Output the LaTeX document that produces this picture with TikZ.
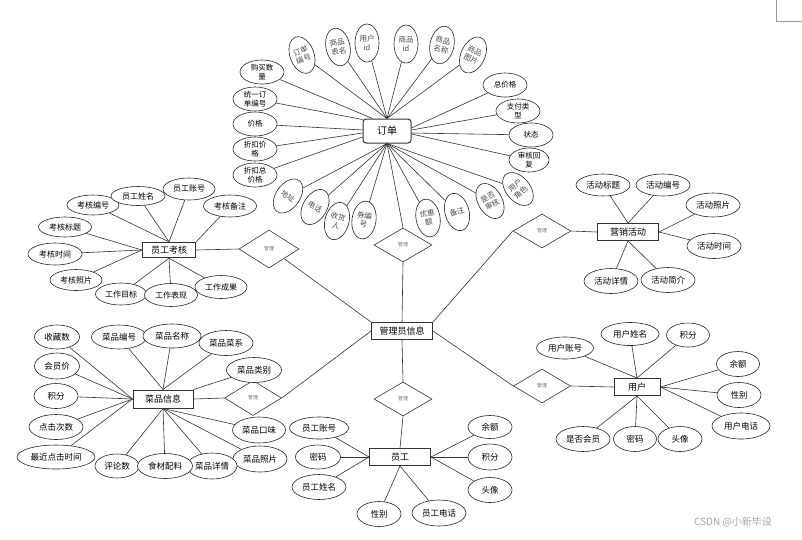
\documentclass[tikz,border=0pt]{standalone}
\usepackage{fontspec}
\setmainfont{Noto Sans CJK SC}
\usetikzlibrary{shapes.geometric,backgrounds}
\begin{document}
\begin{tikzpicture}[x=1pt,y=-1pt,
  ln/.style={draw=black!80, line width=0.6pt},
  ent/.style={draw=black!80, line width=1pt, fill=white, inner sep=0pt, minimum width=61pt, minimum height=17pt, font=\fontsize{9}{10}\selectfont},
  attrib/.style={draw=black!85, line width=0.6pt, ellipse, fill=white, inner sep=0pt, minimum width=54pt, minimum height=24pt, font=\fontsize{8.5}{9}\selectfont, align=center},
  sat/.style={attrib, minimum width=44pt, font=\fontsize{7.5}{8.5}\selectfont},
  rat/.style={attrib, minimum width=24pt, minimum height=38pt, font=\fontsize{7.5}{9}\selectfont, text=black!70},
  rel/.style={draw=black!80, line width=0.6pt, diamond, fill=white, inner sep=0pt, minimum width=58pt, minimum height=34pt, font=\fontsize{5}{5}\selectfont, text=black!55},
]
\useasboundingbox (0,0) rectangle (802,539);

% central part
\node[ent] (adm) at (402,331) {管理员信息};
\node[rel] (r0) at (403,245) {管理};
\node[rel] (r1) at (403,399) {管理};
\node[ent] (emp) at (400,457) {员工};

% order
\node[ent, rounded corners=3pt, minimum width=48pt, minimum height=24pt, font=\fontsize{10}{10}\selectfont] (ord) at (387,131) {订单};
\node[rat, rotate=20] (o1) at (302,55) {订单\\编号};
\node[rat, rotate=12] (o2) at (338,47) {商品\\表名};
\node[rat] (o3) at (367,43) {用户\\id};
\node[rat] (o4) at (406,44) {商品\\id};
\node[rat, rotate=-12] (o5) at (442,45) {商品\\名称};
\node[rat, rotate=-25] (o6) at (473,55) {商品\\图片};
\node[sat] (o7) at (262,72) {购买数\\量};
\node[sat] (o8) at (255,99) {统一订\\单编号};
\node[sat] (o9) at (255,124) {价格};
\node[sat] (o10) at (255,149) {折扣价\\格};
\node[sat] (o11) at (255,175) {折扣总\\价格};
\node[sat] (o12) at (505,85) {总价格};
\node[sat] (o13) at (518,111) {支付类\\型};
\node[sat] (o14) at (531,135) {状态};
\node[sat, minimum width=40pt] (o15) at (529,160) {审核回\\复};
\node[rat, rotate=-35] (o16) at (288,196) {地址};
\node[rat, rotate=-30] (o17) at (315,207) {电话};
\node[rat, rotate=-15] (o18) at (337,221) {收货\\人};
\node[rat, rotate=-8] (o19) at (364,220) {券编\\号};
\node[rat, rotate=10] (o20) at (428,218) {优惠\\额};
\node[rat, rotate=15] (o21) at (457,212) {备注};
\node[rat, rotate=30] (o22) at (490,201) {是否\\审核};
\node[rat, rotate=40] (o23) at (518,189) {用户\\角色};

% staff assessment
\node[ent, line width=1.3pt, minimum width=53pt, minimum height=15pt] (kh) at (169,250) {员工考核};
\node[rel, minimum width=60pt, minimum height=38pt] (rk) at (269,249) {管理};
\node[attrib, minimum width=52pt, minimum height=20pt, font=\fontsize{8}{9}\selectfont] (k1) at (93,205) {考核编号};
\node[attrib, minimum width=54pt, minimum height=19pt, font=\fontsize{8}{9}\selectfont] (k2) at (138,196) {员工姓名};
\node[attrib, minimum width=52pt, minimum height=22pt, font=\fontsize{8}{9}\selectfont] (k3) at (189,189) {员工账号};
\node[attrib, minimum width=53pt, minimum height=22pt, font=\fontsize{8}{9}\selectfont] (k4) at (230,206) {考核备注};
\node[attrib, minimum width=53pt, minimum height=20pt, font=\fontsize{8}{9}\selectfont] (k5) at (65,227) {考核标题};
\node[attrib, minimum width=54pt, minimum height=22pt, font=\fontsize{8}{9}\selectfont] (k6) at (55,254) {考核时间};
\node[attrib, minimum width=52pt, minimum height=21pt, font=\fontsize{8}{9}\selectfont] (k7) at (76,280) {考核照片};
\node[attrib, minimum width=51pt, minimum height=22pt, font=\fontsize{8}{9}\selectfont] (k8) at (121,294) {工作目标};
\node[attrib, minimum width=53pt, minimum height=23pt, font=\fontsize{8}{9}\selectfont] (k9) at (171,295) {工作表现};
\node[attrib, minimum width=52pt, minimum height=23pt, font=\fontsize{8}{9}\selectfont] (k10) at (221,287) {工作成果};

% marketing
\node[ent] (yx) at (628,232) {营销活动};
\node[rel] (ry) at (542,231) {管理};
\node[attrib, minimum height=22pt] (y1) at (603,185) {活动标题};
\node[attrib, minimum height=22pt] (y2) at (663,185) {活动编号};
\node[attrib] (y3) at (713,205) {活动照片};
\node[attrib, minimum height=25pt] (y4) at (714,246) {活动时间};
\node[attrib, minimum height=25pt] (y5) at (611,281) {活动详情};
\node[attrib, minimum height=25pt] (y6) at (668,280) {活动简介};

% dishes
\node[ent, minimum width=60pt, minimum height=18pt] (cp) at (163,399) {菜品信息};
\node[rel, minimum width=57pt, minimum height=35pt] (rc) at (253,398) {管理};
\node[attrib, minimum width=45pt] (c1) at (57,337) {收藏数};
\node[attrib, minimum width=45pt, minimum height=26pt] (c2) at (57,366) {会员价};
\node[attrib, minimum width=44pt, minimum height=25pt] (c3) at (56,396) {积分};
\node[attrib, minimum height=25pt] (c4) at (56,427) {点击次数};
\node[attrib, minimum width=78pt] (c5) at (56,457) {最近点击时间};
\node[attrib, minimum width=55pt] (c6) at (119,337) {菜品编号};
\node[attrib, minimum width=58pt] (c7) at (172,336) {菜品名称};
\node[attrib, minimum height=25pt] (c8) at (226,343) {菜品菜系};
\node[attrib, minimum width=55pt, minimum height=25pt] (c9) at (254,370) {菜品类别};
\node[attrib, minimum width=53pt, minimum height=26pt] (c10) at (259,430) {菜品口味};
\node[attrib, minimum height=26pt] (c11) at (260,459) {菜品照片};
\node[attrib, minimum width=44pt] (c12) at (117,466) {评论数};
\node[attrib, minimum width=50pt, minimum height=26pt] (c14) at (212,466) {菜品详情};
\node[attrib, minimum width=55pt, minimum height=25pt] (c13) at (165,466) {食材配料};

% user
\node[ent, minimum width=46pt] (yh) at (637,387) {用户};
\node[rel, minimum width=57pt] (ru) at (542,386) {管理};
\node[attrib, minimum width=57pt, minimum height=22pt] (u1) at (565,348) {用户账号};
\node[attrib, minimum width=58pt, minimum height=23pt] (u2) at (630,334) {用户姓名};
\node[attrib, minimum width=43pt] (u3) at (688,335) {积分};
\node[attrib, minimum width=43pt, minimum height=25pt] (u4) at (738,364) {余额};
\node[attrib, minimum width=44pt, minimum height=25pt] (u5) at (739,395) {性别};
\node[attrib, minimum width=58pt, minimum height=26pt] (u6) at (741,426) {用户电话};
\node[attrib, minimum height=25pt] (u7) at (583,439) {是否会员};
\node[attrib, minimum width=43pt, minimum height=25pt] (u8) at (635,439) {密码};
\node[attrib, minimum width=44pt, minimum height=25pt] (u9) at (680,439) {头像};

% staff
\node[attrib, minimum width=59pt, minimum height=22pt] (e1) at (319,428) {员工账号};
\node[attrib, minimum width=45pt] (e2) at (318,457) {密码};
\node[attrib, minimum height=25pt] (e3) at (319,487) {员工姓名};
\node[attrib, minimum width=44pt, minimum height=25pt] (e4) at (379,514) {性别};
\node[attrib, minimum height=26pt] (e5) at (439,513) {员工电话};
\node[attrib, minimum width=44pt, minimum height=23pt] (e6) at (490,427) {余额};
\node[attrib, minimum width=44pt, minimum height=26pt] (e7) at (490,457) {积分};
\node[attrib, minimum width=44pt, minimum height=25pt] (e8) at (490,490) {头像};

% watermark
\node[text=black!35, font=\fontsize{10}{10}\selectfont, inner sep=0pt] (wm) at (733,522) {CSDN @小新毕设};
\draw[black!40, line width=0.5pt] (776,0) -- (776,21) -- (802,21);

\begin{scope}[on background layer]
% central
\draw[ln] (ord.south) -- (r0.north);
\draw[ln] (r0.south) -- (adm.north);
\draw[ln] (adm.south) -- (r1.north);
\draw[ln] (r1.south) -- (emp.north);
\draw[ln] (adm.north west) -- (rk.south east);
\draw[ln] (adm.north east) -- (ry.west);
\draw[ln] (adm.west) -- (rc.east);
\draw[ln] (adm.east) -- (ru.west);
% order
\foreach \n in {o1,o2,o3,o4,o5,o6} \draw[ln] (ord.north) -- (\n);
\foreach \n in {o16,o17,o18,o19,o20,o21,o22,o23} \draw[ln] (ord.south) -- (\n);
\draw[ln] ([xshift=10pt]ord.north west) -- (o7);
\draw[ln] ([yshift=-1pt]ord.north west) -- (o8);
\draw[ln] ([yshift=1pt]ord.west) -- (o9);
\draw[ln] ([yshift=-2pt]ord.west) -- (o10);
\draw[ln] ([yshift=-6pt]ord.west) -- (o11);
\draw[ln] ([yshift=3pt]ord.east) -- (o12);
\draw[ln] ([yshift=1pt]ord.east) -- (o13);
\draw[ln] ([yshift=-2pt]ord.east) -- (o14);
\draw[ln] ([yshift=-3pt]ord.east) -- (o15);
% assessment
\foreach \n in {k1,k2,k3} \draw[ln] (kh.north) -- (\n);
\draw[ln] (kh.north east) -- (k4);
\foreach \n in {k5,k6,k7} \draw[ln] (kh.west) -- (\n);
\foreach \n in {k8,k9,k10} \draw[ln] (kh.south) -- (\n);
\draw[ln] (kh.east) -- (rk.west);
% marketing
\foreach \n in {y1,y2} \draw[ln] (yx.north) -- (\n);
\foreach \n in {y3,y4} \draw[ln] (yx.east) -- (\n);
\foreach \n in {y5,y6} \draw[ln] (yx.south) -- (\n);
\draw[ln] (ry.east) -- (yx.west);
% dishes
\foreach \n in {c1,c2,c3,c4,c5} \draw[ln] (cp.west) -- (\n);
\foreach \n in {c6,c7,c8} \draw[ln] (cp.north) -- (\n);
\draw[ln] (cp.north east) -- (c9);
\foreach \n in {c10,c11,c12,c13,c14} \draw[ln] (cp.south) -- (\n);
\draw[ln] (cp.east) -- (rc.west);
% user
\foreach \n in {u1,u2,u3} \draw[ln] (yh.north) -- (\n);
\foreach \n in {u4,u5,u6} \draw[ln] (yh.east) -- (\n);
\foreach \n in {u7,u8,u9} \draw[ln] (yh.south) -- (\n);
\draw[ln] (ru.east) -- (yh.west);
% staff
\foreach \n in {e1,e2,e3} \draw[ln] (emp.west) -- (\n);
\foreach \n in {e4,e5} \draw[ln] (emp.south) -- (\n);
\foreach \n in {e6,e7,e8} \draw[ln] (emp.east) -- (\n);
\end{scope}
\end{tikzpicture}
\end{document}
